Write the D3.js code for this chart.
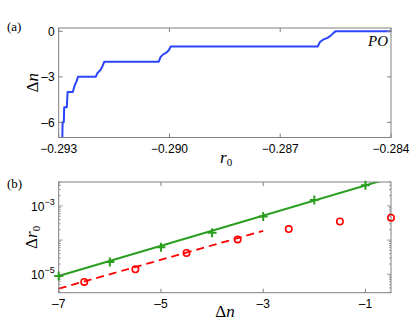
<!DOCTYPE html>
<html>
<head>
<meta charset="utf-8">
<script src="https://cdn.jsdelivr.net/npm/d3@7"></script>
<style>
  body { margin: 0; background: #fff; }
  svg { display: block; }
  .tick-label { font-family: "Liberation Sans", Arial, sans-serif; font-size: 12px; fill: #000; }
  .math { font-family: "Liberation Serif", "Times New Roman", serif; fill: #000; }
</style>
</head>
<body>
<div id="chart"></div>
<script>
/* two stacked panels: (a) staircase of delta n vs r0, (b) log plot of delta r0 vs delta n */

// panel (a) data
const stepR0 = [-0.292902, -0.292894, -0.292862, -0.292851, -0.292781, -0.292759, -0.292618,
  -0.292572, -0.292518, -0.292477, -0.291998, -0.291949, -0.291868, -0.291814, -0.291765,
  -0.290289, -0.290243, -0.290162, -0.290081, -0.290018, -0.289967, -0.285985, -0.285923,
  -0.285842, -0.285733, -0.285639, -0.285557, -0.285503, -0.284];
const stepDn = [-7, -6, -6, -5, -5, -4, -4, -3.6, -3.3, -3, -3, -2.75, -2.55, -2.3, -2,
  -2, -1.7, -1.5, -1.4, -1.25, -1, -1, -0.7, -0.55, -0.45, -0.3, -0.1, 0, 0];
const ticksAx = [-0.293, -0.290, -0.287, -0.284];
const ticksAy = [0, -3, -6];

// panel (b) data
const nPlus = [-7, -6, -5, -4, -3, -2, -1];
const rPlus = [8.9e-6, 2.3e-5, 6.2e-5, 1.65e-4, 4.9e-4, 1.48e-3, 4.0e-3];
const nCirc = [-6.5, -5.5, -4.5, -3.5, -2.5, -1.5, -0.5];
const rCirc = [6.0e-6, 1.4e-5, 4.2e-5, 1.05e-4, 2.1e-4, 3.5e-4, 4.5e-4];
const fitGreenN = [-7, -0.5];
const fitGreenR = [8.9e-6, 6.6e-3];
const fitRedN = [-7, -3];
const fitRedR = [3.8e-6, 1.86e-4];
const ticksBx = [-7, -5, -3, -1];
const ticksBy = [1e-3, 1e-5];

const W = 409, H = 322;
const BOX_COLOR = '#808080';
const BLUE = '#2b45ff', GREEN = '#2a9e1e', RED = '#ff0000';

const svg = d3.select('#chart').append('svg')
  .attr('width', W).attr('height', H);

const left = 58.7, right = 391;

function frame(g, x0, x1, y0, y1) {
  g.append('rect')
    .attr('x', x0).attr('y', y0)
    .attr('width', x1 - x0).attr('height', y1 - y0)
    .attr('fill', 'none').attr('stroke', BOX_COLOR).attr('stroke-width', 1);
}

// ---------- panel (a) ----------
const aTop = 28, aBot = 137.5;
const xa = d3.scaleLinear().domain([-0.293, -0.284]).range([left, right]);
const ya = d3.scaleLinear().domain([-7, 0.22]).range([aBot, aTop]);
const ga = svg.append('g');

svg.append('clipPath').attr('id', 'clipA').append('rect')
  .attr('x', left).attr('y', aTop).attr('width', right - left).attr('height', aBot - aTop);

ga.append('path')
  .datum(stepR0.map((r, i) => [r, stepDn[i]]))
  .attr('clip-path', 'url(#clipA)')
  .attr('fill', 'none').attr('stroke', BLUE).attr('stroke-width', 2)
  .attr('stroke-linejoin', 'round')
  .attr('d', d3.line().x((d) => xa(d[0])).y((d) => ya(d[1])));

// inward ticks
ticksAx.forEach((t) => {
  ga.append('line').attr('x1', xa(t)).attr('x2', xa(t)).attr('y1', aBot).attr('y2', aBot - 4)
    .attr('stroke', BOX_COLOR);
  ga.append('line').attr('x1', xa(t)).attr('x2', xa(t)).attr('y1', aTop).attr('y2', aTop + 4)
    .attr('stroke', BOX_COLOR);
  ga.append('text').attr('class', 'tick-label')
    .attr('x', xa(t)).attr('y', aBot + 15).attr('text-anchor', 'middle')
    .text(d3.format('.3f')(t).replace('-', '\u2013'));
});
ticksAy.forEach((t) => {
  ga.append('line').attr('x1', left).attr('x2', left + 4).attr('y1', ya(t)).attr('y2', ya(t))
    .attr('stroke', BOX_COLOR);
  ga.append('line').attr('x1', right).attr('x2', right - 4).attr('y1', ya(t)).attr('y2', ya(t))
    .attr('stroke', BOX_COLOR);
  ga.append('text').attr('class', 'tick-label')
    .attr('x', left - 4).attr('y', ya(t) + 4.3).attr('text-anchor', 'end')
    .text(String(t).replace('-', '\u2013'));
});
frame(ga, left, right, aTop, aBot);

ga.append('text').attr('class', 'math').attr('x', 368).attr('y', 46)
  .attr('font-size', 15).attr('font-style', 'italic').text('PO');

ga.append('text').attr('class', 'math').attr('x', 7).attr('y', 31)
  .attr('font-size', 13).text('(a)');

// axis titles (a)
const yTitleA = ga.append('text').attr('class', 'math').attr('font-size', 17)
  .attr('text-anchor', 'middle')
  .attr('transform', `translate(38,${(aTop + aBot) / 2}) rotate(-90)`);
yTitleA.append('tspan').text('\u0394');
yTitleA.append('tspan').attr('font-style', 'italic').text('n');

const xTitleA = ga.append('text').attr('class', 'math').attr('font-size', 17)
  .attr('x', 220).attr('y', 163);
xTitleA.append('tspan').attr('font-style', 'italic').text('r');
xTitleA.append('tspan').attr('font-size', 11).attr('dy', 3).text('0');

// ---------- panel (b) ----------
const bTop = 182, bBot = 292.7;
const xb = d3.scaleLinear().domain([-7, -0.5]).range([left, right]);
const yb = d3.scaleLog().domain([2.9e-6, 5.0e-3]).range([bBot, bTop]);
const gb = svg.append('g');

svg.append('clipPath').attr('id', 'clipB').append('rect')
  .attr('x', left).attr('y', bTop).attr('width', right - left).attr('height', bBot - bTop);

const lineB = d3.line().x((d) => xb(d[0])).y((d) => yb(d[1]));

gb.append('path')
  .datum(fitGreenN.map((n, i) => [n, fitGreenR[i]]))
  .attr('clip-path', 'url(#clipB)')
  .attr('fill', 'none').attr('stroke', GREEN).attr('stroke-width', 2)
  .attr('d', lineB);

gb.append('path')
  .datum(fitRedN.map((n, i) => [n, fitRedR[i]]))
  .attr('clip-path', 'url(#clipB)')
  .attr('fill', 'none').attr('stroke', RED).attr('stroke-width', 1.8)
  .attr('stroke-dasharray', '8,5')
  .attr('d', lineB);

// minor + major log ticks on both sides
const logTicks = yb.ticks();
logTicks.forEach((t) => {
  const major = Math.abs(Math.log10(t) - Math.round(Math.log10(t))) < 1e-9;
  const len = major ? 4 : 2;
  gb.append('line').attr('x1', left).attr('x2', left + len).attr('y1', yb(t)).attr('y2', yb(t))
    .attr('stroke', BOX_COLOR).attr('stroke-width', 0.8);
  gb.append('line').attr('x1', right).attr('x2', right - len).attr('y1', yb(t)).attr('y2', yb(t))
    .attr('stroke', BOX_COLOR).attr('stroke-width', 0.8);
});
ticksBy.forEach((t) => {
  const txt = gb.append('text').attr('class', 'tick-label')
    .attr('x', left - 4).attr('y', yb(t) + 5).attr('text-anchor', 'end');
  txt.append('tspan').text('10');
  txt.append('tspan').attr('font-size', 9).attr('dy', -6)
    .text('\u2212' + Math.round(-Math.log10(t)));
});
ticksBx.forEach((t) => {
  gb.append('line').attr('x1', xb(t)).attr('x2', xb(t)).attr('y1', bBot).attr('y2', bBot - 4)
    .attr('stroke', BOX_COLOR);
  gb.append('line').attr('x1', xb(t)).attr('x2', xb(t)).attr('y1', bTop).attr('y2', bTop + 4)
    .attr('stroke', BOX_COLOR);
  gb.append('text').attr('class', 'tick-label')
    .attr('x', xb(t)).attr('y', bBot + 15).attr('text-anchor', 'middle')
    .text(String(t).replace('-', '\u2013'));
});
frame(gb, left, right, bTop, bBot);

// markers
gb.selectAll('path.plus')
  .data(nPlus.map((n, i) => [n, rPlus[i]]))
  .join('path')
  .attr('class', 'plus')
  .attr('transform', (d) => `translate(${xb(d[0])},${yb(d[1])})`)
  .attr('d', 'M-4.5,0H4.5M0,-4.5V4.5')
  .attr('stroke', GREEN).attr('stroke-width', 2).attr('fill', 'none');

gb.selectAll('circle.circ')
  .data(nCirc.map((n, i) => [n, rCirc[i]]))
  .join('circle')
  .attr('class', 'circ')
  .attr('cx', (d) => xb(d[0])).attr('cy', (d) => yb(d[1]))
  .attr('r', 3.2)
  .attr('fill', 'none').attr('stroke', RED).attr('stroke-width', 1.6);

gb.append('text').attr('class', 'math').attr('x', 7).attr('y', 188)
  .attr('font-size', 13).text('(b)');

const yTitleB = gb.append('text').attr('class', 'math').attr('font-size', 17)
  .attr('text-anchor', 'middle')
  .attr('transform', `translate(37,${(bTop + bBot) / 2}) rotate(-90)`);
yTitleB.append('tspan').text('\u0394');
yTitleB.append('tspan').attr('font-style', 'italic').text('r');
yTitleB.append('tspan').attr('font-size', 11).attr('dy', 3).text('0');

const xTitleB = gb.append('text').attr('class', 'math').attr('font-size', 17)
  .attr('text-anchor', 'middle').attr('x', 225).attr('y', 317);
xTitleB.append('tspan').text('\u0394');
xTitleB.append('tspan').attr('font-style', 'italic').text('n');
</script>
</body>
</html>
